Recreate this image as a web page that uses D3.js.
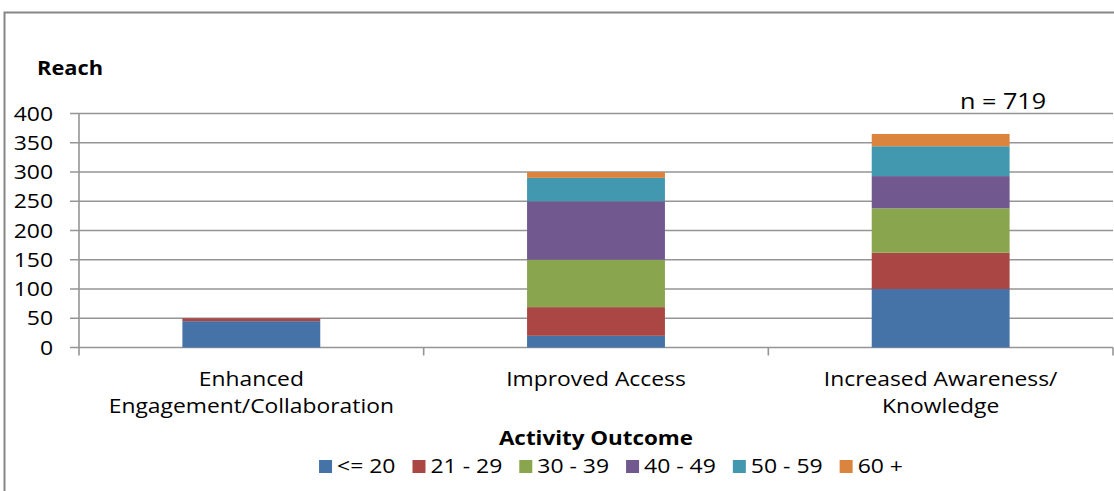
<!DOCTYPE html>
<html>
<head>
<meta charset="utf-8">
<script src="https://cdn.jsdelivr.net/npm/d3@7"></script>
<style>
  html, body { margin: 0; padding: 0; background: #fff; }
  svg { display: block; }
  text { font-family: "Open Sans", "Noto Sans", sans-serif; fill: #000; }
</style>
</head>
<body>
<svg id="chart" width="1114" height="491"></svg>
<script>
// Activity outcomes (x categories), each label split over lines
const categories = ["Enhanced Engagement/Collaboration", "Improved Access", "Increased Awareness/ Knowledge"];
const categoryLines = [["Enhanced", "Engagement/Collaboration"], ["Improved Access"], ["Increased Awareness/", "Knowledge"]];

// Age groups (stack series)
const ageGroups = ["<= 20", "21 - 29", "30 - 39", "40 - 49", "50 - 59", "60 +"];

// Reach per age group, one array per group, ordered like categories
const under20 = [45, 20, 100];
const age21to29 = [5, 49, 62];
const age30to39 = [0, 81, 76];
const age40to49 = [0, 100, 55];
const age50to59 = [0, 40, 51];
const age60plus = [0, 10, 21];

const yTicks = [0, 50, 100, 150, 200, 250, 300, 350, 400];
const totalLabel = "n = 719";
const yTitle = "Reach";
const xTitle = "Activity Outcome";

const colors = ["#4572A7", "#AA4643", "#89A54E", "#71588F", "#4198AF", "#DB843D"];

const seriesValues = [under20, age21to29, age30to39, age40to49, age50to59, age60plus];
const rows = categories.map((c, i) => {
  const r = { category: c };
  ageGroups.forEach((g, k) => { r[g] = seriesValues[k][i]; });
  return r;
});

const svg = d3.select("#chart");
const SX = 1.12; // horizontal stretch applied to all text

function place(sel, x, y) {
  return sel.attr("transform", `translate(${x},${y}) scale(${SX},1)`);
}

// Outer chart frame
svg.append("rect")
  .attr("x", 4.5).attr("y", 12.5)
  .attr("width", 1200).attr("height", 600)
  .attr("fill", "#fff").attr("stroke", "#868686").attr("stroke-width", 2);

const plotLeft = 79, plotRight = 1113, plotTop = 113.5, plotBottom = 347.5;

const x = d3.scaleBand()
  .domain(categories)
  .range([plotLeft, plotRight])
  .paddingInner(0.6)
  .paddingOuter(0.3);

const y = d3.scaleLinear().domain([0, 400]).range([plotBottom, plotTop]);

// Horizontal gridlines + left ticks
const grid = svg.append("g");
yTicks.forEach(t => {
  grid.append("line")
    .attr("x1", plotLeft - 9).attr("x2", plotRight)
    .attr("y1", y(t)).attr("y2", y(t))
    .attr("stroke", "#959595").attr("stroke-width", 1.6);
});

// Value axis line
svg.append("line")
  .attr("x1", plotLeft).attr("x2", plotLeft)
  .attr("y1", plotTop).attr("y2", plotBottom + 8)
  .attr("stroke", "#959595").attr("stroke-width", 1.6);

// Category separators on the bottom axis
const step = x.step();
[1, 2, 3].forEach(k => {
  const xx = plotLeft + step * k;
  svg.append("line")
    .attr("x1", xx).attr("x2", xx)
    .attr("y1", plotBottom).attr("y2", plotBottom + 8)
    .attr("stroke", "#959595").attr("stroke-width", 1.6);
});

// Tick labels
yTicks.forEach(t => {
  place(svg.append("text"), 53, y(t) + 7)
    .attr("text-anchor", "end")
    .attr("font-size", 20.5)
    .text(t);
});

// Stacked bars
const stack = d3.stack().keys(ageGroups);
const layers = stack(rows);
svg.append("g").selectAll("g")
  .data(layers)
  .join("g")
  .attr("fill", (d, i) => colors[i])
  .selectAll("rect")
  .data(d => d.filter(s => s[1] > s[0]))
  .join("rect")
  .attr("x", d => x(d.data.category))
  .attr("width", x.bandwidth())
  .attr("y", d => y(d[1]))
  .attr("height", d => y(d[0]) - y(d[1]));

// Category labels
categories.forEach((c, i) => {
  const cx = x(c) + x.bandwidth() / 2;
  categoryLines[i].forEach((line, j) => {
    place(svg.append("text"), cx, 386 + j * 27)
      .attr("text-anchor", "middle")
      .attr("font-size", 20.4)
      .text(line);
  });
});

// Titles
place(svg.append("text"), 37, 75)
  .attr("font-size", 19.5).attr("font-weight", "bold").text(yTitle);

place(svg.append("text"), (plotLeft + plotRight) / 2, 445)
  .attr("text-anchor", "middle")
  .attr("font-size", 20).attr("font-weight", "bold").text(xTitle);

place(svg.append("text"), 960, 109)
  .attr("font-size", 22.5).text(totalLabel);

// Legend
const legend = svg.append("g");
let lx = 0;
ageGroups.forEach((g, i) => {
  const item = legend.append("g").attr("transform", `translate(${lx},0)`);
  item.append("rect")
    .attr("x", 0).attr("y", -13).attr("width", 13).attr("height", 13)
    .attr("fill", colors[i]);
  const t = place(item.append("text"), 18, 0)
    .attr("font-size", 20.5).text(g);
  const w = t.node().getComputedTextLength() * SX;
  lx += 18 + w + 17;
});
const legendWidth = lx - 17;
legend.attr("transform", `translate(${611 - legendWidth / 2},473)`);
</script>
</body>
</html>
